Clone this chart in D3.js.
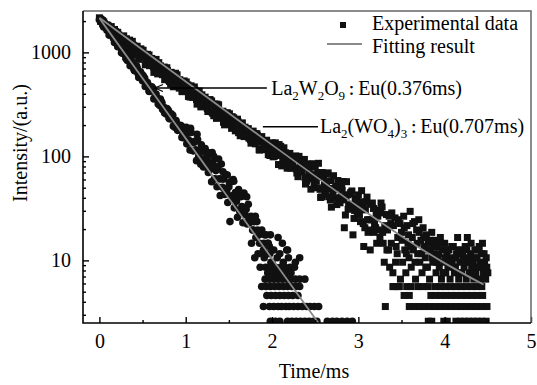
<!DOCTYPE html>
<html>
<head>
<meta charset="utf-8">
<script src="https://cdn.jsdelivr.net/npm/d3@7"></script>
<style>
  html, body { margin: 0; padding: 0; background: #fff; }
  svg { display: block; }
</style>
</head>
<body>
<svg id="chart"></svg>
<script>
const xTicks = [0, 1, 2, 3, 4, 5];
const xMinorTicks = [0.5, 1.5, 2.5, 3.5, 4.5];
const yTicks = [10, 100, 1000];
const yMinorTicks = [3, 4, 5, 6, 7, 8, 9, 20, 30, 40, 50, 60, 70, 80, 90,
                     200, 300, 400, 500, 600, 700, 800, 900, 2000];

// La2(WO4)3:Eu decay (squares), [time ms, intensity]
const la2wo43Data = [
  [0,2150],[0.025,1992],[0.05,1963],[0.075,1798],[0.1,1810],[0.125,1621],[0.15,1652],[0.175,1661],[0.2,1474],[0.225,1470],
  [0.0125,1987],[0.0375,2019],[0.0625,1791],[0.0875,1842],[0.1125,1705],[0.1375,1770],[0.1625,1537],[0.1875,1583],[0.2125,1560],[0.2375,1414],
  [0.25,1329],[0.275,1413],[0.3,1182],[0.325,1263],[0.35,1311],[0.375,1088],[0.4,1160],[0.425,943],[0.45,1036],[0.475,1076],
  [0.2625,1364],[0.2875,1217],[0.3125,1354],[0.3375,1187],[0.3625,1056],[0.3875,1181],[0.4125,1044],[0.4375,1146],[0.4625,939],[0.4875,1003],
  [0.2563,1106],[0.2813,1442],[0.3063,1087],[0.3313,1304],[0.3563,948],[0.3813,1277],[0.4063,967],[0.4313,1109],[0.4563,857],[0.4813,1076],
  [0.5,901],[0.525,962],[0.55,771],[0.575,943],[0.6,810],[0.625,728],[0.65,823],[0.675,621],[0.7,719],[0.725,663],
  [0.5125,947],[0.5375,804],[0.5625,931],[0.5875,805],[0.6125,841],[0.6375,689],[0.6625,749],[0.6875,797],[0.7125,652],[0.7375,713],
  [0.5063,1049],[0.5313,760],[0.5563,958],[0.5813,745],[0.6063,875],[0.6313,642],[0.6563,856],[0.6813,631],[0.7063,744],[0.7313,610],
  [0.75,723],[0.775,575],[0.8,625],[0.825,496],[0.85,601],[0.875,530],[0.9,608],[0.925,453],[0.95,494],[0.975,515],
  [0.7625,615],[0.7875,671],[0.8125,525],[0.8375,592],[0.8625,521],[0.8875,607],[0.9125,508],[0.9375,525],[0.9625,419],[0.9875,474],
  [0.7563,546],[0.7813,712],[0.8063,536],[0.8313,643],[0.8563,467],[0.8813,630],[0.9063,477],[0.9313,546],[0.9563,422],[0.9813,532],
  [1,431],[1.025,487],[1.05,372],[1.075,420],[1.1,465],[1.125,352],[1.15,391],[1.175,299],[1.2,341],[1.225,371],
  [1.0125,464],[1.0375,388],[1.0625,475],[1.0875,390],[1.1125,417],[1.1375,324],[1.1625,367],[1.1875,391],[1.2125,311],[1.2375,341],
  [1.0063,520],[1.0313,377],[1.0563,474],[1.0813,369],[1.1063,433],[1.1313,318],[1.1563,425],[1.1813,313],[1.2063,368],[1.2313,302],
  [1.25,288],[1.275,324],[1.3,341],[1.325,246],[1.35,279],[1.375,295],[1.4,239],[1.425,269],[1.45,201],[1.475,237],
  [1.2625,311],[1.2875,340],[1.3125,260],[1.3375,300],[1.3625,318],[1.3875,246],[1.4125,262],[1.4375,213],[1.4625,260],[1.4875,219],
  [1.2563,270],[1.2813,352],[1.3063,266],[1.3313,319],[1.3563,232],[1.3813,313],[1.4063,237],[1.4313,272],[1.4563,210],[1.4813,263],
  [1.5,250],[1.525,203],[1.55,218],[1.575,176],[1.6,228],[1.625,183],[1.65,195],[1.675,156],[1.7,172],[1.725,185],
  [1.5125,212],[1.5375,241],[1.5625,212],[1.5875,214],[1.6125,169],[1.6375,186],[1.6625,163],[1.6875,191],[1.7125,177],[1.7375,151],
  [1.5063,257],[1.5313,186],[1.5563,235],[1.5813,183],[1.6063,215],[1.6313,158],[1.6563,210],[1.6813,155],[1.7063,182],[1.7313,150],
  [1.75,145],[1.775,163],[1.8,145],[1.825,165],[1.85,116],[1.875,137],[1.9,142],[1.925,116],[1.95,120],[1.975,102],
  [1.7625,166],[1.7875,139],[1.8125,165],[1.8375,139],[1.8625,147],[1.8875,118],[1.9125,131],[1.9375,143],[1.9625,114],[1.9875,127],
  [1.7563,134],[1.7813,175],[1.8063,132],[1.8313,158],[1.8563,115],[1.8813,155],[1.9063,118],[1.9313,135],[1.9563,104],[1.9813,132],
  [2,135],[2.0125,99],[2.025,100],[2.0375,135],[2.05,114],[2.0625,104],[2.075,83.5],[2.0875,114],[2.1,125],[2.1125,81],
  [2.125,93],[2.1375,121],[2.15,103],[2.1625,86.5],[2.175,77],[2.1875,103.5],[2.2,106],[2.2125,77],[2.225,85],[2.2375,89],
  [2.0063,118.7],[2.0313,132.5],[2.0563,102],[2.0813,129.9],[2.1063,108.6],[2.1313,95],[2.1563,108.2],[2.1813,93.9],[2.2063,106.8],[2.2313,78],
  [2.25,77.4],[2.2625,96.7],[2.275,101],[2.2875,69.2],[2.3,63.8],[2.3125,100],[2.325,86.2],[2.3375,71],[2.35,73],[2.3625,79.6],
  [2.375,93.5],[2.3875,54.2],[2.4,57.7],[2.4125,84.3],[2.425,78.7],[2.4375,63.3],[2.45,48.4],[2.4625,85],[2.475,66.8],[2.4875,53.9],
  [2.2563,95.7],[2.2813,75.7],[2.3063,96.9],[2.3313,75.5],[2.3563,79.3],[2.3813,62.8],[2.4063,81.4],[2.4313,67.9],[2.4563,60.8],[2.4813,78.8],
  [2.5,80.8],[2.5125,58.4],[2.525,49.9],[2.5375,85.8],[2.55,63.3],[2.5625,40.3],[2.575,40.8],[2.5875,67.6],[2.6,64.7],[2.6125,43.1],
  [2.625,47.9],[2.6375,68.5],[2.65,69.4],[2.6625,49.1],[2.675,38.1],[2.6875,32.5],[2.7,49.1],[2.7125,65.2],[2.725,39.9],[2.7375,51.4],
  [2.5063,58.1],[2.5313,69.9],[2.5563,48.2],[2.5813,70],[2.6063,53.5],[2.6313,57.1],[2.6563,41],[2.6813,58.4],[2.7063,43.2],[2.7313,48.5],
  [2.75,34.4],[2.7625,58.6],[2.775,53.3],[2.7875,35.8],[2.8,40.8],[2.8125,47.3],[2.825,57.3],[2.8375,20.6],[2.85,27.3],[2.8625,57.1],
  [2.875,42.7],[2.8875,34.3],[2.9,31.9],[2.9125,45],[2.925,46.5],[2.9375,17.6],[2.95,25.3],[2.9625,39.7],[2.975,35.6],[2.9875,29.3],
  [2.7563,50.5],[2.7813,37.7],[2.8063,52.3],[2.8313,38.2],[2.8563,40.9],[2.8813,31],[2.9063,43.5],[2.9313,34.5],[2.9563,30.2],[2.9813,38],
  [3,42.6],[3.0125,27.4],[3.025,23.6],[3.0375,46.8],[3.05,33.6],[3.0625,13.6],[3.075,20.6],[3.0875,36.5],[3.1,40.6],[3.1125,18.6],
  [3.125,24.6],[3.1375,12.6],[3.15,19.6],[3.1625,35.6],[3.175,31.6],[3.1875,22.6],[3.2,20.6],[3.2125,14.6],[3.225,26.6],[3.2375,30.6],
  [3.0063,31.6],[3.0313,36.6],[3.0563,22.6],[3.0813,30.6],[3.1063,24.6],[3.1313,34.6],[3.1563,24.6],[3.1813,18.6],[3.2063,27.6],[3.2313,19.6],
  [3.25,16.6],[3.2625,35.6],[3.275,32.6],[3.2875,14.6],[3.3,9.6],[3.3125,3.6],[3.325,27.6],[3.3375,19.6],[3.35,12.6],[3.3625,8.6],
  [3.375,22.6],[3.3875,28.6],[3.4,7.6],[3.4125,5.6],[3.425,25.6],[3.4375,13.6],[3.45,11.6],[3.4625,24.6],[3.475,5.6],[3.4875,6.6],
  [3.2563,28.6],[3.2813,18.6],[3.3063,21.6],[3.3313,12.6],[3.3563,26.6],[3.3813,14.6],[3.4063,21.6],[3.4313,9.6],[3.4563,16.6],[3.4813,22.6],
  [3.5,18.6],[3.5125,9.6],[3.525,26.6],[3.5375,12.6],[3.55,7.6],[3.5625,21.6],[3.575,14.6],[3.5875,10.6],[3.6,29.6],[3.6125,8.6],
  [3.625,16.6],[3.6375,12.6],[3.65,23.6],[3.6625,6.6],[3.675,19.6],[3.6875,11.6],[3.7,24.6],[3.7125,9.6],[3.725,15.6],[3.7375,7.6],
  [3.75,20.6],[3.7625,13.6],[3.775,10.6],[3.7875,17.6],[3.8,8.6],[3.8125,14.6],[3.825,6.6],[3.8375,12.6],[3.85,18.6],[3.8625,9.6],
  [3.875,11.6],[3.8875,15.6],[3.9,7.6],[3.9125,13.6],[3.925,10.6],[3.9375,8.6],[3.95,16.6],[3.9625,6.6],[3.975,12.6],[3.9875,9.6],
  [4,14.6],[4.0125,7.6],[4.025,11.6],[4.0375,8.6],[4.05,12.6],[4.0625,6.6],[4.075,10.6],[4.0875,9.6],[4.1,13.6],[4.1125,7.6],
  [4.125,8.6],[4.1375,11.6],[4.15,16.6],[4.1625,6.6],[4.175,9.6],[4.1875,12.6],[4.2,7.6],[4.2125,10.6],[4.225,8.6],[4.2375,13.6],
  [4.25,6.6],[4.2625,16.6],[4.275,9.6],[4.2875,7.6],[4.3,11.6],[4.3125,8.6],[4.325,9.6],[4.3375,6.6],[4.35,12.6],[4.3625,7.6],
  [4.375,10.6],[4.3875,8.6],[4.4,13.6],[4.4125,6.6],[4.425,11.6],[4.4375,14.6],[4.45,7.6],[4.4625,9.6],[4.475,6.6],[4.4875,8.6],[4.5,7.6],
  [3.5063,15.6],[3.5313,20.6],[3.5563,11.6],[3.5813,17.6],[3.6063,13.6],[3.6313,22.6],[3.6563,9.6],[3.6813,14.6],[3.7063,18.6],[3.7313,11.6],
  [3.7563,16.6],[3.7813,8.6],[3.8063,12.6],[3.8313,15.6],[3.8563,10.6],[3.8813,13.6],[3.9063,9.6],[3.9313,11.6],[3.9563,14.6],[3.9813,7.6],
  [4.0063,10.6],[4.0313,12.6],[4.0563,9.6],[4.0813,13.6],[4.1063,8.6],[4.1313,10.6],[4.1563,12.6],[4.1813,7.6],[4.2063,11.6],[4.2313,9.6],
  [4.2563,12.6],[4.2813,10.6],[4.3063,14.6],[4.3313,8.6],[4.3563,10.6],[4.3813,12.6],[4.4063,9.6],[4.4313,8.6],[4.4563,11.6],[4.4813,10.6],
  // low count rows
  [3.40,5.6],[3.46,5.6],[3.56,5.6],[3.61,5.6],[3.69,5.6],[3.75,5.6],[3.81,5.6],[3.89,5.6],[3.95,5.6],[4.01,5.6],
  [4.07,5.6],[4.13,5.6],[4.19,5.6],[4.25,5.6],[4.31,5.6],[4.37,5.6],[4.43,5.6],
  [3.53,4.6],[3.59,4.6],[3.84,4.6],[3.90,4.6],[3.96,4.6],[4.02,4.6],[4.08,4.6],[4.14,4.6],[4.20,4.6],[4.26,4.6],
  [4.32,4.6],[4.38,4.6],[4.44,4.6],
  [3.59,3.6],[3.65,3.6],[3.71,3.6],[3.77,3.6],[3.83,3.6],[3.89,3.6],[3.95,3.6],[4.01,3.6],[4.07,3.6],[4.13,3.6],
  [4.19,3.6],[4.25,3.6],[4.31,3.6],[4.37,3.6],[4.43,3.6],[4.49,3.6],
  [3.81,2.6],[3.85,2.6],[3.99,2.6],[4.03,2.6],[4.13,2.6],[4.18,2.6],[4.23,2.6],[4.28,2.6],[4.33,2.6],[4.38,2.6],
  [4.43,2.6],[4.48,2.6]
];

// La2W2O9:Eu decay (circles), [time ms, intensity]
const la2w2o9Data = [
  [0,2064],[0.025,2091],[0.05,1751],[0.075,1778],[0.1,1745],[0.125,1465],[0.15,1471],[0.175,1242],[0.2,1325],[0.225,1158],
  [0.0125,2099],[0.0375,1830],[0.0625,1910],[0.0875,1635],[0.1125,1468],[0.1375,1535],[0.1625,1367],[0.1875,1382],[0.2125,1136],[0.2375,1143],
  [0.25,1138],[0.275,973],[0.3,968],[0.325,834],[0.35,889],[0.375,769],[0.4,690],[0.425,721],[0.45,624],[0.475,650],
  [0.2625,1017],[0.2875,1040],[0.3125,862],[0.3375,936],[0.3625,796],[0.3875,774],[0.4125,667],[0.4375,705],[0.4625,603],[0.4875,599],
  [0.2563,990],[0.2813,1088],[0.3063,885],[0.3313,970],[0.3563,743],[0.3813,818],[0.4063,671],[0.4313,737],[0.4563,575],[0.4813,633],
  [0.5,535],[0.525,564],[0.55,488],[0.575,424],[0.6,449],[0.625,444],[0.65,363],[0.675,360],[0.7,308],[0.725,328],
  [0.5125,578],[0.5375,495],[0.5625,491],[0.5875,424],[0.6125,456],[0.6375,364],[0.6625,369],[0.6875,328],[0.7125,342],[0.7375,281],
  [0.5063,598],[0.5313,471],[0.5563,514],[0.5813,421],[0.6063,468],[0.6313,357],[0.6563,398],[0.6813,319],[0.7063,355],[0.7313,286],
  [0.75,295],[0.775,255],[0.8,276],[0.825,230],[0.85,249],[0.875,191],[0.9,204],[0.925,180],[0.95,196],[0.975,151],
  [0.7625,272],[0.7875,283],[0.8125,230],[0.8375,239],[0.8625,196],[0.8875,221],[0.9125,184],[0.9375,199],[0.9625,156],[0.9875,163],
  [0.7563,262],[0.7813,288],[0.8063,234],[0.8313,257],[0.8563,196],[0.8813,217],[0.9063,178],[0.9313,195],[0.9563,152],[0.9813,168],
  [1,164],[1.0125,132],[1.025,174],[1.0375,139],[1.05,115],[1.0625,170],[1.075,137],[1.0875,113],[1.1,137],[1.1125,116],
  [1.125,91],[1.1375,145],[1.15,100],[1.1625,114],[1.175,84],[1.1875,118],[1.2,94.5],[1.2125,80],[1.225,119],[1.2375,81],
  [1.0063,190],[1.0313,144],[1.0563,186],[1.0813,114],[1.1063,140],[1.1313,163],[1.1563,108],[1.1813,129],[1.2063,79],[1.2313,109],
  [1.25,92],[1.2625,70],[1.275,108],[1.2875,76],[1.3,57],[1.3125,87],[1.325,100],[1.3375,61],[1.35,73],[1.3625,51],
  [1.375,80],[1.3875,61],[1.4,42],[1.4125,84.5],[1.425,50.5],[1.4375,60.5],[1.45,43],[1.4625,67],[1.475,47],[1.4875,36],
  [1.2563,105],[1.2813,81],[1.3063,109],[1.3313,60.5],[1.3563,75],[1.3813,94.5],[1.4063,60.7],[1.4313,71],[1.4563,46.5],[1.4813,66.2],
  [1.5,51],[1.5125,23.6],[1.525,57],[1.5375,39],[1.55,60],[1.5625,32],[1.575,45],[1.5875,37],[1.6,26],[1.6125,48],
  [1.625,30],[1.6375,41],[1.65,33],[1.6625,23],[1.675,44.5],[1.6875,27.5],[1.7,31],[1.7125,22.4],[1.725,34.7],[1.7375,23],
  [1.5063,56],[1.5313,41.7],[1.5563,57.6],[1.5813,39.8],[1.6063,46],[1.6313,29.2],[1.6563,41.6],[1.6813,31.6],[1.7063,40.9],[1.7313,25.6],
  [1.75,24.6],[1.7625,14.6],[1.775,19.6],[1.7875,23.6],[1.8,10.6],[1.8125,16.6],[1.825,23.6],[1.8375,11.6],[1.85,17.6],[1.8625,8.6],
  [1.875,18.6],[1.8875,11.6],[1.9,12.6],[1.9125,17.6],[1.925,8.6],[1.9375,11.6],[1.95,14.6],[1.9625,8.6],[1.975,11.6],[1.9875,9.6],
  [1.7563,26.6],[1.7813,19.6],[1.8063,26.6],[1.8313,19.6],[1.8563,14.6],[1.8813,19.6],[1.9063,14.6],[1.9313,17.6],[1.9563,14.6],[1.9813,17.6],
  [1.91,10.6],[2.0,9.6],[2.06,10.6],[2.13,9.6],[2.19,10.6],[2.27,9.6],[2.32,10.6],[2.02,12.6],[2.09,11.6],[2.17,12.6],
  [1.97,13.6],[2.07,16.6],[2.12,14.6],[2.18,12.6],
  [1.98,8.6],[2.04,8.6],[2.10,8.6],[2.15,8.6],[2.21,8.6],[2.26,8.6],
  [1.95,7.6],[2.01,7.6],[2.06,7.6],[2.11,7.6],[2.16,7.6],[2.22,7.6],
  [1.92,6.6],[1.97,6.6],[2.02,6.6],[2.07,6.6],[2.12,6.6],[2.17,6.6],[2.22,6.6],[2.27,6.6],[2.32,6.6],[2.38,6.6],
  [1.88,5.6],[1.93,5.6],[1.98,5.6],[2.03,5.6],[2.08,5.6],[2.13,5.6],[2.18,5.6],[2.23,5.6],[2.28,5.6],[2.32,5.6],
  [1.94,4.6],[1.99,4.6],[2.04,4.6],[2.09,4.6],[2.14,4.6],[2.19,4.6],[2.24,4.6],[2.30,4.6],
  [1.90,3.6],[1.97,3.6],[2.02,3.6],[2.07,3.6],[2.11,3.6],[2.16,3.6],[2.20,3.6],[2.25,3.6],[2.30,3.6],[2.35,3.6],
  [2.40,3.6],[2.44,3.6],[2.49,3.6],[2.54,3.6],
  [1.98,2.6],[2.04,2.6],[2.09,2.6],[2.18,2.6],[2.23,2.6],[2.28,2.6],[2.33,2.6],[2.38,2.6],[2.43,2.6],[2.48,2.6],
  [2.52,2.6],[2.64,2.6],[2.70,2.6],[2.75,2.6],[2.81,2.6],[2.87,2.6],[2.93,2.6]
];

// fitted curves
const la2wo43Fit = [[0,2152],[0.5,1062],[1,525],[1.5,260],[2,129],[2.5,64.6],[3,32.8],[3.5,17.1],[4,9.41],[4.45,5.85]];
const la2w2o9Fit = [[0,2128],[0.5,563],[1,149],[1.5,39.4],[2,10.4],[2.5,2.76],[2.6,2.12]];

const legendLabels = ['Experimental data', 'Fitting result'];

const width = 537, height = 385;
const plot = { left: 83, right: 531, top: 11, bottom: 323 };
const serif = '"Liberation Serif", "Times New Roman", Times, serif';

const svg = d3.select('#chart')
    .attr('width', width)
    .attr('height', height);

svg.append('rect')
    .attr('width', width)
    .attr('height', height)
    .attr('fill', '#fff');

const x = d3.scaleLinear()
    .domain([-0.19, 5])
    .range([plot.left, plot.right]);

const y = d3.scaleLog()
    .domain([2.5, 2500])
    .range([plot.bottom, plot.top]);

svg.append('clipPath')
    .attr('id', 'plot-clip')
  .append('rect')
    .attr('x', plot.left)
    .attr('y', plot.top)
    .attr('width', plot.right - plot.left)
    .attr('height', plot.bottom - plot.top);

const marks = svg.append('g')
    .attr('clip-path', 'url(#plot-clip)');

marks.append('g')
    .attr('fill', '#111')
  .selectAll('rect')
  .data(la2wo43Data)
  .enter().append('rect')
    .attr('x', d => x(d[0]) - 3.5)
    .attr('y', d => y(d[1]) - 3.5)
    .attr('width', 7)
    .attr('height', 7);

marks.append('g')
    .attr('fill', '#111')
  .selectAll('circle')
  .data(la2w2o9Data)
  .enter().append('circle')
    .attr('cx', d => x(d[0]))
    .attr('cy', d => y(d[1]))
    .attr('r', 3.8);

const line = d3.line()
    .x(d => x(d[0]))
    .y(d => y(d[1]))
    .curve(d3.curveMonotoneX);

[la2wo43Fit, la2w2o9Fit].forEach(fit => {
    marks.append('path')
        .datum(fit)
        .attr('fill', 'none')
        .attr('stroke', '#8a8a8a')
        .attr('stroke-width', 1.8)
        .attr('d', line);
});

// axes, ticks pointing inward
svg.append('g')
    .attr('transform', `translate(0,${plot.bottom})`)
    .call(d3.axisBottom(x).tickValues(xTicks).tickFormat(d3.format('d'))
        .tickSizeInner(-6).tickSizeOuter(0).tickPadding(11));
svg.append('g')
    .attr('transform', `translate(0,${plot.bottom})`)
    .call(d3.axisBottom(x).tickValues(xMinorTicks).tickFormat('')
        .tickSizeInner(-3).tickSizeOuter(0));

svg.append('g')
    .attr('transform', `translate(${plot.left},0)`)
    .call(d3.axisLeft(y).tickValues(yTicks).tickFormat(d3.format('d'))
        .tickSizeInner(-6).tickSizeOuter(0).tickPadding(12));
svg.append('g')
    .attr('transform', `translate(${plot.left},0)`)
    .call(d3.axisLeft(y).tickValues(yMinorTicks).tickFormat('')
        .tickSizeInner(-3).tickSizeOuter(0));

svg.selectAll('.domain').remove();
svg.selectAll('g[font-family]').attr('font-family', serif).attr('font-size', 20);
svg.selectAll('.tick line')
    .attr('stroke', '#000')
    .attr('stroke-width', 1.4);
svg.selectAll('.tick text')
    .attr('fill', '#000');

// frame
svg.append('path')
    .attr('fill', 'none')
    .attr('stroke', '#666')
    .attr('stroke-width', 1.5)
    .attr('d', `M${plot.left},${plot.top}H${plot.right}V${plot.bottom}`);
svg.append('path')
    .attr('fill', 'none')
    .attr('stroke', '#000')
    .attr('stroke-width', 1.6)
    .attr('d', `M${plot.left},${plot.top}V${plot.bottom}H${plot.right}`);

svg.append('text')
    .attr('x', 314)
    .attr('y', 378)
    .attr('text-anchor', 'middle')
    .attr('font-family', serif)
    .attr('font-size', 20)
    .text('Time/ms');

svg.append('text')
    .attr('transform', 'translate(27,143) rotate(-90)')
    .attr('text-anchor', 'middle')
    .attr('font-family', serif)
    .attr('font-size', 20)
    .text('Intensity/(a.u.)');

// legend
svg.append('rect')
    .attr('x', 340)
    .attr('y', 22)
    .attr('width', 6)
    .attr('height', 6)
    .attr('fill', '#111');
svg.append('line')
    .attr('x1', 327).attr('x2', 362)
    .attr('y1', 44).attr('y2', 44)
    .attr('stroke', '#8a8a8a')
    .attr('stroke-width', 1.8);
svg.selectAll('text.legend')
  .data(legendLabels)
  .enter().append('text')
    .attr('class', 'legend')
    .attr('x', 372)
    .attr('y', (d, i) => 30 + i * 23)
    .attr('font-family', serif)
    .attr('font-size', 20)
    .text(d => d);

// annotations with subscripts
const drawLabel = (px, py, parts) => {
    const t = svg.append('text')
        .attr('x', px)
        .attr('y', py)
        .attr('font-family', serif)
        .attr('font-size', 20);
    let shifted = 0;
    parts.forEach(([s, kind]) => {
        const span = t.append('tspan').text(s);
        if (kind === 'sub') {
            span.attr('dy', 5 - shifted).attr('font-size', 13);
            shifted = 5;
        } else if (kind === 'colon') {
            span.attr('dy', -shifted)
                .attr('font-family', '"Noto Sans CJK TC", "Noto Sans CJK SC", sans-serif')
                .attr('font-weight', 'bold')
                .attr('font-size', 13);
            shifted = 0;
        } else {
            span.attr('dy', -shifted);
            shifted = 0;
        }
    });
};

const arrowTip = [0.643, 454];
svg.append('line')
    .attr('x1', x(1.94)).attr('x2', x(arrowTip[0]))
    .attr('y1', y(arrowTip[1])).attr('y2', y(arrowTip[1]))
    .attr('stroke', '#000')
    .attr('stroke-width', 1.5);
svg.append('path')
    .attr('fill', 'none')
    .attr('stroke', '#000')
    .attr('stroke-width', 1.2)
    .attr('d', `M${x(arrowTip[0]) + 8},${y(arrowTip[1]) - 3.5}L${x(arrowTip[0])},${y(arrowTip[1])}L${x(arrowTip[0]) + 8},${y(arrowTip[1]) + 3.5}`);
drawLabel(x(1.99), y(arrowTip[1]) + 7, [
    ['La'], ['2', 'sub'], ['W'], ['2', 'sub'], ['O'], ['9', 'sub'], ['：', 'colon'], ['Eu(0.376ms)']
]);

const pointer = [1.894, 2.532, 193];
svg.append('line')
    .attr('x1', x(pointer[0])).attr('x2', x(pointer[1]))
    .attr('y1', y(pointer[2])).attr('y2', y(pointer[2]))
    .attr('stroke', '#000')
    .attr('stroke-width', 1.5);
drawLabel(x(2.555), y(pointer[2]) + 6, [
    ['La'], ['2', 'sub'], ['(WO'], ['4', 'sub'], [')'], ['3', 'sub'], ['：', 'colon'], ['Eu(0.707ms)']
]);
</script>
</body>
</html>
